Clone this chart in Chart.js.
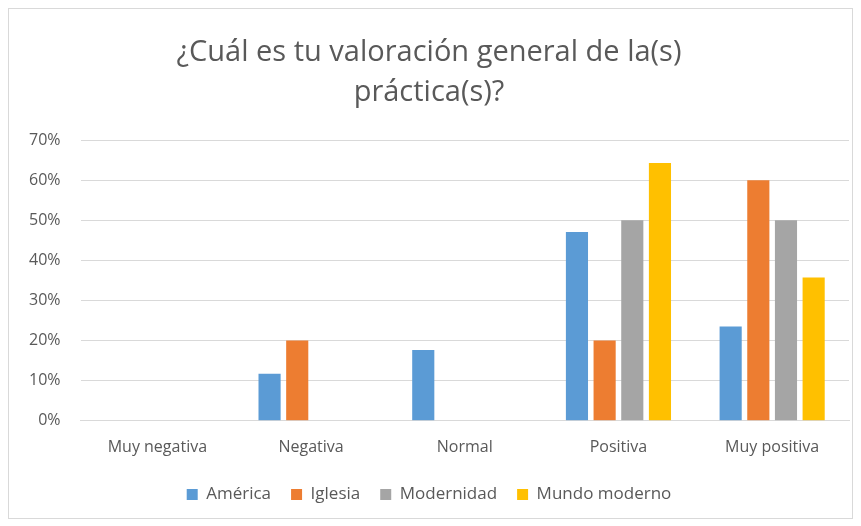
<!DOCTYPE html>
<html>
<head>
<meta charset="utf-8">
<script src="https://cdn.jsdelivr.net/npm/chart.js@4"></script>
<style>
  html, body { margin: 0; padding: 0; background: #fff; }
  #wrap { position: absolute; left: 8px; top: 8px; width: 843px; height: 509px; border: 1px solid #d9d9d9; }
</style>
</head>
<body>
<div id="wrap"><canvas id="mycanvas1"></canvas></div>
<script>
var categories = ['Muy negativa', 'Negativa', 'Normal', 'Positiva', 'Muy positiva'];
var america = [0, 11.76, 17.65, 47.06, 23.53];
var iglesia = [0, 20, 0, 20, 60];
var modernidad = [0, 0, 0, 50, 50];
var mundoModerno = [0, 0, 0, 64.29, 35.71];
var yTicks = [0, 10, 20, 30, 40, 50, 60, 70];

var font = "'Open Sans', 'Liberation Sans', sans-serif";
var grey = '#595959';

var chartdata = {
  labels: categories,
  datasets: [
    { label: 'América', backgroundColor: '#5b9bd5', data: america },
    { label: 'Iglesia', backgroundColor: '#ed7d31', data: iglesia },
    { label: 'Modernidad', backgroundColor: '#a5a5a5', data: modernidad },
    { label: 'Mundo moderno', backgroundColor: '#ffc000', data: mundoModerno }
  ]
};

var ctx = document.getElementById('mycanvas1');
var barGraph = new Chart(ctx, {
  type: 'bar',
  data: chartdata,
  options: {
    responsive: true,
    maintainAspectRatio: false,
    animation: false,
    categoryPercentage: 0.72,
    barPercentage: 0.8,
    layout: { padding: { left: 0, right: 3, top: 10, bottom: 5 } },
    plugins: {
      title: {
        display: true,
        text: ['¿Cuál es tu valoración general de la(s)', 'práctica(s)?'],
        color: grey,
        font: { family: font, size: 29, weight: 'normal', lineHeight: 1.38 },
        padding: { top: 14, bottom: 27 }
      },
      legend: {
        position: 'bottom',
        labels: {
          color: grey,
          font: { family: font, size: 17 },
          boxWidth: 11,
          boxHeight: 11,
          padding: 20
        }
      },
      tooltip: { enabled: false }
    },
    scales: {
      x: {
        grid: { display: false },
        border: { color: '#d9d9d9' },
        ticks: { color: grey, font: { family: font, size: 16 }, padding: 9 }
      },
      y: {
        min: 0,
        max: 70,
        afterBuildTicks: function(axis) { axis.ticks = yTicks.map(function(v) { return { value: v }; }); },
        grid: { color: '#d9d9d9', drawTicks: false },
        border: { display: false },
        ticks: {
          color: grey,
          font: { family: font, size: 16 },
          padding: 20,
          callback: function(v) { return v + '%'; }
        }
      }
    }
  }
});
</script>
</body>
</html>
